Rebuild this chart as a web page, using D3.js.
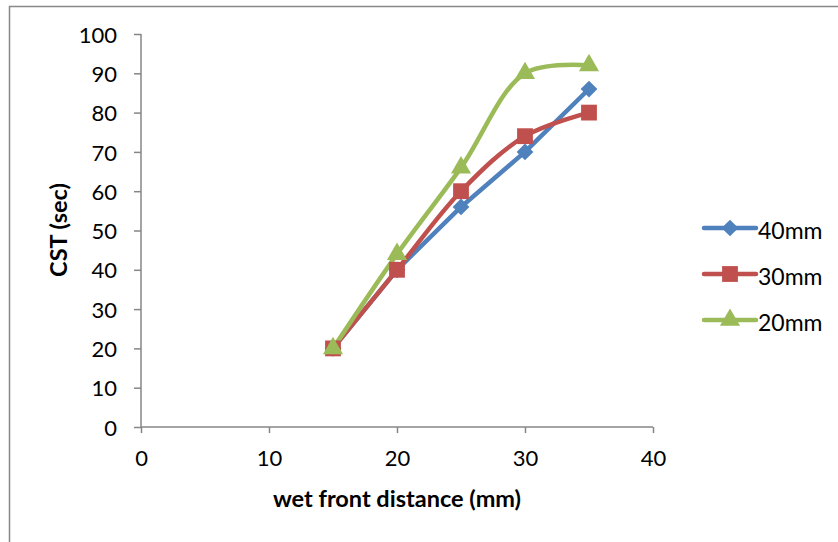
<!DOCTYPE html>
<html><head><meta charset="utf-8">
<script src="https://cdn.jsdelivr.net/npm/d3@7"></script>
<style>body{margin:0;background:#fff}svg{display:block}</style>
</head><body>
<svg id="c" width="838" height="542"></svg>
<script>
const xValues = [15, 20, 25, 30, 35];
const seriesNames = ["40mm", "30mm", "20mm"];
const values40 = [20, 40, 56, 70, 86];
const values30 = [20, 40, 60, 74, 80];
const values20 = [20, 44, 66, 90, 92];
const xTicks = [0, 10, 20, 30, 40];
const yTicks = [0, 10, 20, 30, 40, 50, 60, 70, 80, 90, 100];

const colors = ["#4F81BD", "#C0504D", "#9BBB59"];
const shapes = [d3.symbolSquare, d3.symbolSquare, d3.symbolTriangle];
const rot = [45, 0, 0];
const symSizes = [140, 250, 175];
const allSeries = [values40, values30, values20];
const font = "Lato, 'Open Sans', sans-serif";

const svg = d3.select("#c");
svg.append("rect").attr("x", 9.5).attr("y", 6.5).attr("width", 900).attr("height", 600)
  .attr("fill", "none").attr("stroke", "#888").attr("stroke-width", 1.5);

const x = d3.scaleLinear().domain([0, 40]).range([141, 653]);
const y = d3.scaleLinear().domain([0, 100]).range([427, 34]);

const gx = svg.append("g").attr("transform", "translate(0,427)")
  .call(d3.axisBottom(x).tickValues(xTicks).tickSize(6).tickPadding(17));
const gy = svg.append("g").attr("transform", "translate(141,0)")
  .call(d3.axisLeft(y).tickValues(yTicks).tickSize(7).tickPadding(17));
[gx, gy].forEach(g => {
  g.selectAll("path,line").attr("stroke", "#868686").attr("stroke-width", 1.5);
  g.selectAll("text").attr("font-family", font).attr("font-size", 22).attr("fill", "#000");
  g.select(".domain").attr("d", g === gx ? "M141,0H653" : "M0,34V427");
});
gy.selectAll("text").attr("dy", "0.37em");

svg.append("text").attr("x", 397).attr("y", 507).attr("text-anchor", "middle")
  .attr("font-family", font).attr("font-weight", "bold").attr("font-size", 23.5).text("wet front distance (mm)");
svg.append("text").attr("transform", "translate(59,230) rotate(-90)").attr("text-anchor", "middle").attr("dy", "0.35em")
  .attr("font-family", font).attr("font-weight", "bold").attr("font-size", 23.5).text("CST (sec)");

const curves = [d3.curveLinear, d3.curveCatmullRom.alpha(0.5), d3.curveCatmullRom.alpha(0.5)];
allSeries.forEach((vals, i) => {
  const pts = xValues.map((xv, j) => [xv, vals[j]]);
  svg.append("path").datum(pts)
    .attr("d", d3.line().x(d => x(d[0])).y(d => y(d[1])).curve(curves[i]))
    .attr("fill", "none").attr("stroke", colors[i]).attr("stroke-width", 4.5).attr("stroke-linejoin", "round").attr("stroke-linecap", "round");
});
allSeries.forEach((vals, i) => {
  svg.append("g").selectAll("path").data(xValues.map((xv, j) => [xv, vals[j]])).join("path")
    .attr("transform", d => `translate(${x(d[0])},${y(d[1])}) rotate(${rot[i]})`)
    .attr("d", d3.symbol().type(shapes[i]).size(symSizes[i])())
    .attr("fill", colors[i]);
});

const legY = [228, 274, 320];
seriesNames.forEach((name, i) => {
  const g = svg.append("g").attr("transform", `translate(0,${legY[i]})`);
  g.append("line").attr("x1", 704).attr("x2", 756).attr("y1", 0).attr("y2", 0)
    .attr("stroke", colors[i]).attr("stroke-width", 4.5).attr("stroke-linecap", "round");
  g.append("path").attr("transform", `translate(730,0) rotate(${rot[i]})`)
    .attr("d", d3.symbol().type(shapes[i]).size(symSizes[i])()).attr("fill", colors[i]);
  g.append("text").attr("x", 758).attr("y", 3).attr("dy", "0.35em")
    .attr("font-family", font).attr("font-size", 23).text(name);
});
</script>
</body></html>
